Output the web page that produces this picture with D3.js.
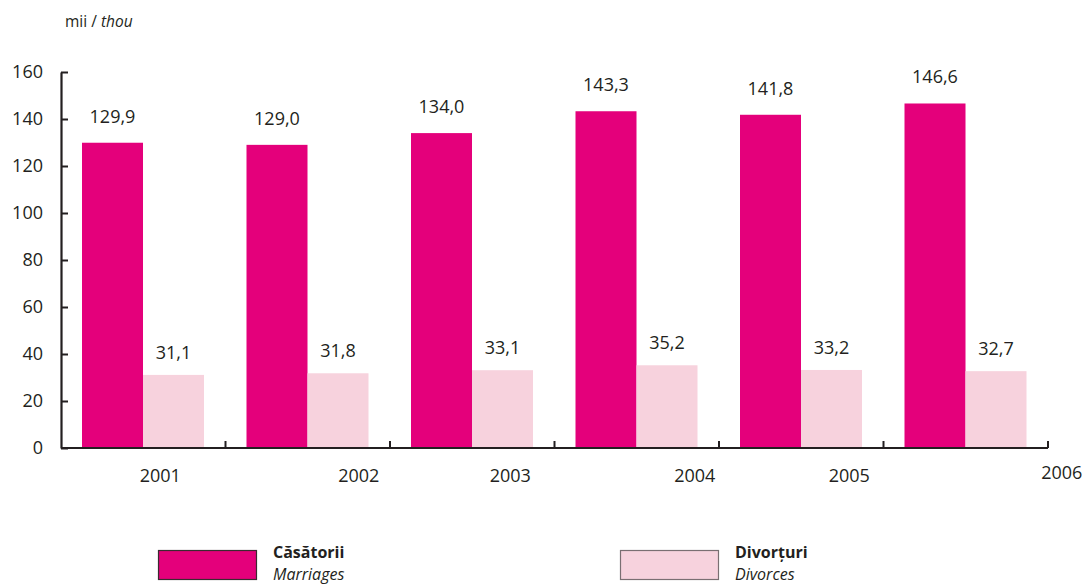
<!DOCTYPE html>
<html>
<head>
<meta charset="utf-8">
<script src="https://cdn.jsdelivr.net/npm/d3@7"></script>
<style>
  body { margin: 0; background: #fff; }
  svg text { font-family: "Open Sans", sans-serif; fill: #231f20; }
</style>
</head>
<body>
<div id="chart"></div>
<script>
// data
const years = ['2001', '2002', '2003', '2004', '2005', '2006'];
const marriages = [129.9, 129.0, 134.0, 143.3, 141.8, 146.6];
const divorces = [31.1, 31.8, 33.1, 35.2, 33.2, 32.7];
const yTicks = [0, 20, 40, 60, 80, 100, 120, 140, 160];

// year labels in the original sit off-centre, nudge them
const yearNudge = [17, 51, 38, 58, 48, 96];

const width = 1087,
      height = 586;

const fmt = v => d3.format('.1f')(v).replace('.', ',');

const svg = d3.select('#chart').append('svg').attr('width', width).attr('height', height);

const x = d3.scaleBand().domain(years).range([61, 1048]).padding(0);
const x1 = d3.scaleBand().domain(['m', 'd']).range([21, 143]).padding(0);
const y = d3.scaleLinear().domain([0, 160]).range([448, 72]);

const series = [
  {key: 'm', values: marriages, color: '#e4007b', off: 20},
  {key: 'd', values: divorces, color: '#f7d2dd', off: 16}
];

// bars
series.forEach(s => {
  svg.append('g').selectAll('rect').data(years).enter().append('rect')
    .attr('x', d => x(d) + x1(s.key))
    .attr('y', (d, i) => y(s.values[i]))
    .attr('width', x1.bandwidth())
    .attr('height', (d, i) => y(0) - y(s.values[i]))
    .attr('fill', s.color);

  svg.append('g').selectAll('text').data(years).enter().append('text')
    .attr('x', d => x(d) + x1(s.key) + x1.bandwidth() / 2)
    .attr('y', (d, i) => y(s.values[i]) - s.off)
    .attr('text-anchor', 'middle')
    .style('font-size', '18px')
    .text((d, i) => fmt(s.values[i]));
});

// y axis
const yAxis = svg.append('g').attr('transform', 'translate(61,0)')
  .call(d3.axisLeft(y).tickValues(yTicks).tickSize(-7).tickSizeOuter(0).tickPadding(18));
yAxis.select('.domain').attr('stroke', '#231f20').attr('stroke-width', 2.2);
yAxis.selectAll('.tick line').attr('stroke', '#231f20').attr('stroke-width', 2);
yAxis.selectAll('text').style('font-size', '18px').style('font-family', '"Open Sans", sans-serif').attr('fill', '#231f20');

// x axis line and ticks at band edges
svg.append('line')
  .attr('x1', x.range()[0]).attr('x2', x.range()[1])
  .attr('y1', y(0)).attr('y2', y(0))
  .attr('stroke', '#231f20').attr('stroke-width', 2.2);

svg.append('g').selectAll('line').data(years).enter().append('line')
  .attr('x1', d => x(d) + x.bandwidth()).attr('x2', d => x(d) + x.bandwidth())
  .attr('y1', y(0)).attr('y2', y(0) - 7)
  .attr('stroke', '#231f20').attr('stroke-width', 2);

svg.append('g').selectAll('text').data(years).enter().append('text')
  .attr('x', (d, i) => x(d) + x.bandwidth() / 2 + yearNudge[i])
  .attr('y', (d, i) => i === years.length - 1 ? 479 : 482)
  .attr('text-anchor', 'middle')
  .style('font-size', '18px')
  .text(d => d);

// unit label
const unit = svg.append('text').attr('x', 65).attr('y', 27).style('font-size', '15.5px');
unit.append('tspan').text('mii / ');
unit.append('tspan').style('font-style', 'italic').text('thou');

// legend
const legend = [
  {ro: 'Căsătorii', en: 'Marriages', color: '#e4007b', stroke: '#3a2a30', x: 158},
  {ro: 'Divorțuri', en: 'Divorces', color: '#f7d2dd', stroke: '#7a6f72', x: 620}
];
const lg = svg.append('g').selectAll('g').data(legend).enter().append('g')
  .attr('transform', d => `translate(${d.x},550)`);
lg.append('rect')
  .attr('x', 0.5).attr('y', 0.5).attr('width', 98).attr('height', 29)
  .attr('fill', d => d.color).attr('stroke', d => d.stroke).attr('stroke-width', 1.2);
lg.append('text').attr('x', 115).attr('y', 8)
  .style('font-size', '16px').style('font-weight', 'bold')
  .text(d => d.ro);
lg.append('text').attr('x', 115).attr('y', 30)
  .style('font-size', '16px').style('font-style', 'italic')
  .text(d => d.en);
</script>
</body>
</html>
